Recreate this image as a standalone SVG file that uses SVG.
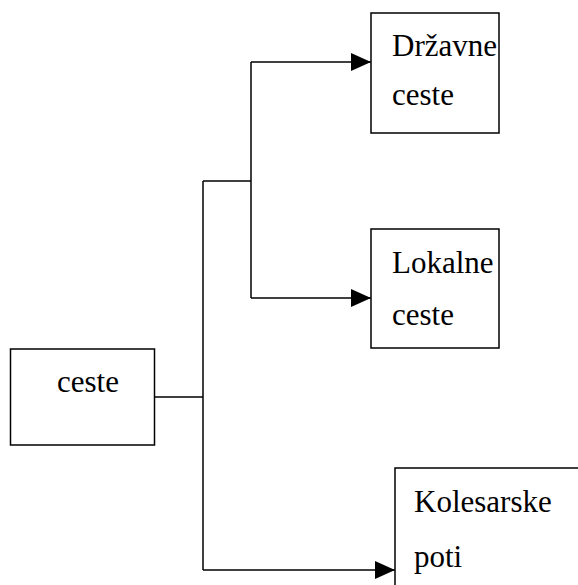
<svg xmlns="http://www.w3.org/2000/svg" width="578" height="585" viewBox="0 0 578 585">
<defs>
<style>
.box{fill:#fff;stroke:#000;stroke-width:1.5}
.lbl{font-size:31px;fill:#000}
.con{fill:none;stroke:#000;stroke-width:1.5}
</style>
<marker id="arr" viewBox="0 0 20 20" refX="20" refY="10" markerWidth="20" markerHeight="20" markerUnits="userSpaceOnUse" orient="auto">
<path d="M0,1 L20,10 L0,19 Z" fill="#000"/>
</marker>
</defs>
<rect width="578" height="585" fill="#fff"/>
<g id="connectors">
<path class="con" d="M154,397 H203"/>
<path class="con" d="M203,181 V570"/>
<path class="con" d="M203,181 H251"/>
<path class="con" d="M251,62 V298"/>
<path class="con" d="M251,62 H371" marker-end="url(#arr)"/>
<path class="con" d="M251,298 H371" marker-end="url(#arr)"/>
<path class="con" d="M203,570 H395" marker-end="url(#arr)"/>
</g>
<g font-family="Liberation Serif, Times New Roman, serif">
<g id="node-ceste">
<rect class="box" x="10.5" y="349" width="144" height="96"/>
<text class="lbl" x="57" y="392">ceste</text>
</g>
<g id="node-drzavne">
<rect class="box" x="371" y="13" width="128" height="120"/>
<text class="lbl" x="392" y="56">Državne</text>
<text class="lbl" x="392" y="105">ceste</text>
</g>
<g id="node-lokalne">
<rect class="box" x="371" y="229" width="128" height="119"/>
<text class="lbl" x="392" y="273">Lokalne</text>
<text class="lbl" x="392" y="325">ceste</text>
</g>
<g id="node-kolesarske">
<rect class="box" x="395" y="468" width="190" height="130"/>
<text class="lbl" x="414" y="512">Kolesarske</text>
<text class="lbl" x="414" y="567">poti</text>
</g>
</g>
</svg>
